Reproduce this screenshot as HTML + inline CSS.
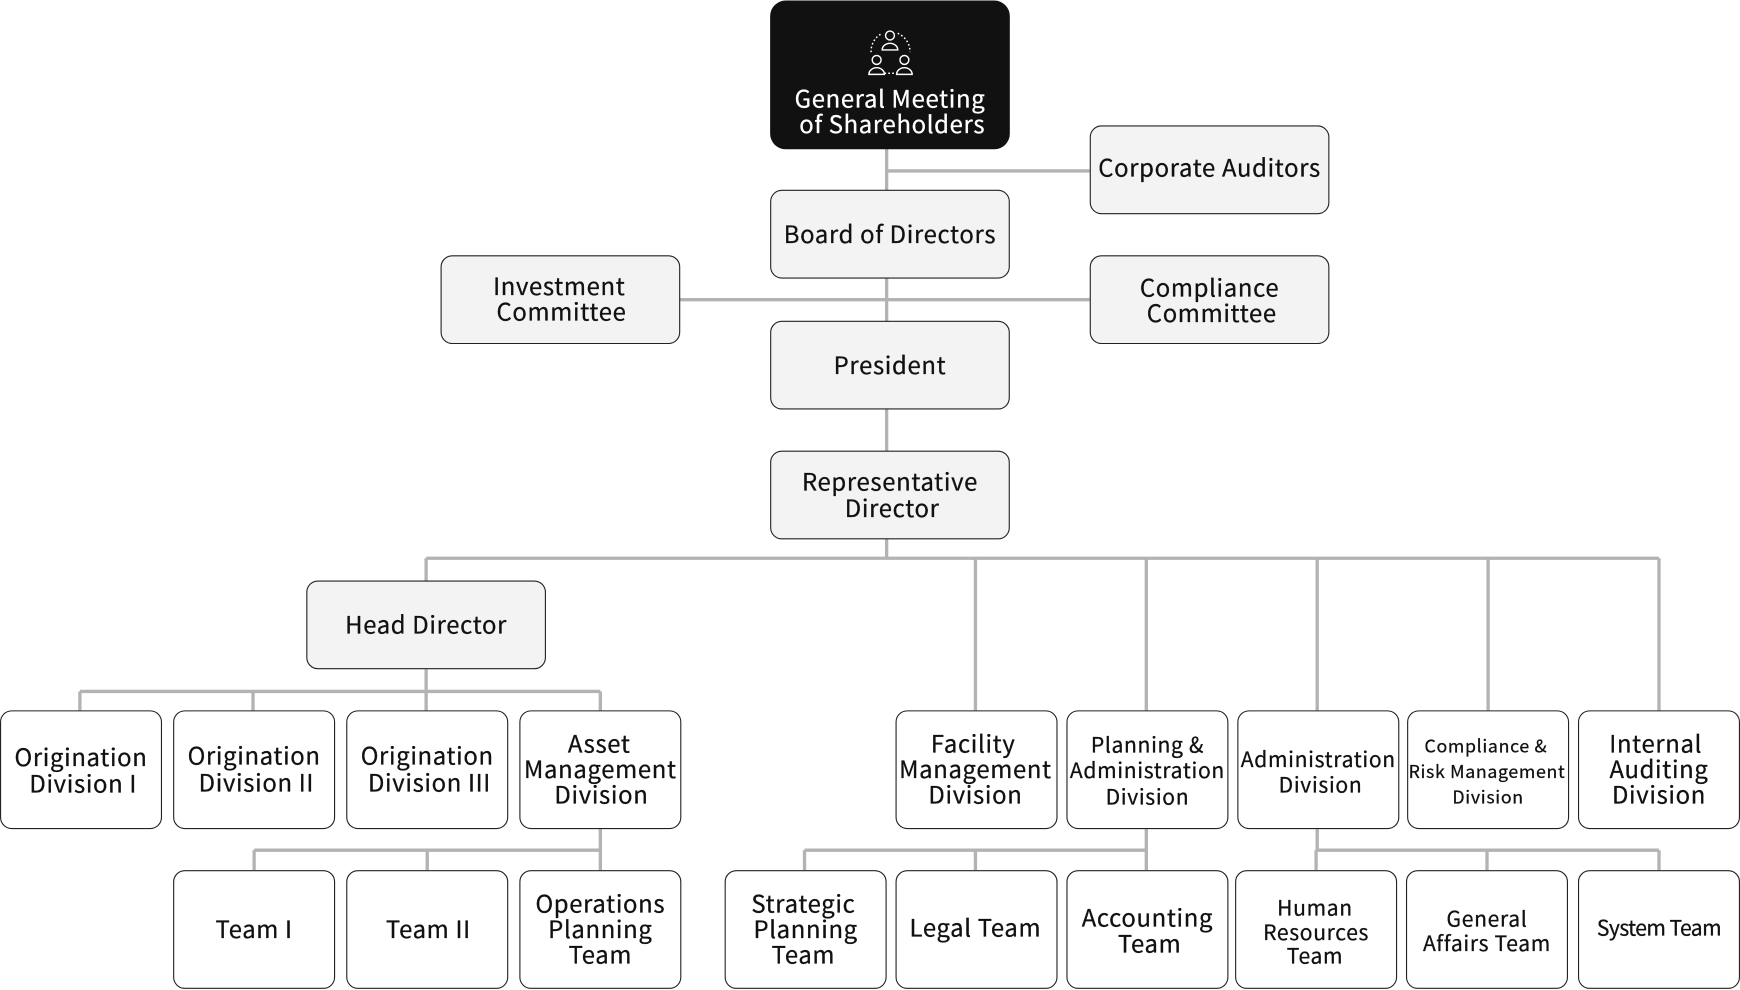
<!DOCTYPE html>
<html><head><meta charset="utf-8"><style>
html,body{margin:0;padding:0;background:#fff;width:1740px;height:990px;overflow:hidden}
svg{display:block}
text{font-family:"Noto Sans CJK JP","Liberation Sans",sans-serif;fill:#111;text-anchor:middle;font-size:21.5px;letter-spacing:0.6px;stroke:#111;stroke-width:0.25px}
.b{fill:#f3f3f3;stroke:#222;stroke-width:1}
.w{fill:#fff;stroke:#222;stroke-width:1}
.l{stroke:#b3b3b3;stroke-width:3;fill:none}
</style></head><body>
<svg width="1740" height="990" viewBox="0 0 1568 892" preserveAspectRatio="none">
<path class="l" d="M799 134V503M799 154H982M612 270H982M384 503H1495M384 503V523M879 503V640M1033 503V640M1187 503V640M1341 503V640M1495 503V640"/>
<path class="l" d="M384 603V623M72 623H541M72 623V640M228 623V640M384 623V640M541 623V640"/>
<path class="l" d="M541 747V766M229 766H541M229 766V784M385 766V784M541 766V784"/>
<path class="l" d="M1033 747V766M725 766H1033M725 766V784M879 766V784M1033 766V784"/>
<path class="l" d="M1187 747V766M1186 766H1495M1186 766V784M1340 766V784M1495 766V784"/>
<rect x="694" y="0.5" width="216" height="134" rx="14" fill="#111"/>
<g stroke="#fff" stroke-width="1.3" fill="none">
<circle cx="802" cy="32" r="4"/><path d="M795 45a7 6 0 0 1 14 0z"/>
<circle cx="790" cy="54" r="4"/><path d="M783 67a7 6 0 0 1 14 0z"/>
<circle cx="815" cy="54" r="4"/><path d="M808 67a7 6 0 0 1 14 0z"/>
<path d="M785 47a18 18 0 0 1 10 -17M809 30a18 18 0 0 1 11 17M797 66h11" stroke-dasharray="1.5 2"/>
</g>
<text x="802" y="97" style="fill:#fff;stroke:#fff">General Meeting</text>
<text x="804" y="120" style="fill:#fff;stroke:#fff">of Shareholders</text>
<rect class="b" x="982.5" y="113.5" width="215" height="79" rx="10"/><text x="1090" y="159">Corporate Auditors</text>
<rect class="b" x="694.5" y="171.5" width="215" height="79" rx="10"/><text x="802" y="219">Board of Directors</text>
<rect class="b" x="397.5" y="230.5" width="215" height="79" rx="10"/><text x="504" y="266">Investment</text><text x="506" y="289">Committee</text>
<rect class="b" x="982.5" y="230.5" width="215" height="79" rx="10"/><text x="1090" y="267">Compliance</text><text x="1092" y="290">Committee</text>
<rect class="b" x="694.5" y="289.5" width="215" height="79" rx="10"/><text x="802" y="337">President</text>
<rect class="b" x="694.5" y="406.5" width="215" height="79" rx="10"/><text x="802" y="442">Representative</text><text x="804" y="466">Director</text>
<rect class="b" x="276.5" y="523.5" width="215" height="79" rx="10"/><text x="384" y="571">Head Director</text>
<rect class="w" x="0.5" y="640.5" width="145" height="106" rx="10"/><text x="73" y="690">Origination</text><text x="75" y="714">Division I</text>
<rect class="w" x="156.5" y="640.5" width="145" height="106" rx="10"/><text x="229" y="689">Origination</text><text x="231" y="713">Division II</text>
<rect class="w" x="312.5" y="640.5" width="145" height="106" rx="10"/><text x="385" y="689">Origination</text><text x="387" y="713">Division III</text>
<rect class="w" x="468.5" y="640.5" width="145" height="106" rx="10"/><text x="540" y="678">Asset</text><text x="541" y="701">Management</text><text x="542" y="724">Division</text>
<rect class="w" x="807.5" y="640.5" width="145" height="106" rx="10"/><text x="877" y="678">Facility</text><text x="879" y="701">Management</text><text x="879" y="724">Division</text>
<rect class="w" x="961.5" y="640.5" width="145" height="106" rx="10"/><g style="letter-spacing:-1.1px"><text x="1034" y="678" style="font-size:19px">Planning &amp;</text><text x="1034" y="701" style="font-size:19px">Administration</text><text x="1034" y="725" style="font-size:19px">Division</text></g>
<rect class="w" x="1115.5" y="640.5" width="145" height="106" rx="10"/><g style="letter-spacing:-1px"><text x="1188" y="691" style="font-size:19px">Administration</text><text x="1190" y="714" style="font-size:19px">Division</text></g>
<rect class="w" x="1268.5" y="640.5" width="145" height="106" rx="10"/><g style="letter-spacing:-1.6px"><text x="1339" y="678" style="font-size:16px">Compliance &amp;</text><text x="1340" y="701" style="font-size:16px">Risk Management</text><text x="1341" y="724" style="font-size:16px">Division</text></g>
<rect class="w" x="1422.5" y="640.5" width="145" height="106" rx="10"/><text x="1492" y="678">Internal</text><text x="1495" y="701">Auditing</text><text x="1495" y="724">Division</text>
<rect class="w" x="156.5" y="784.5" width="145" height="106" rx="10"/><text x="229" y="845">Team I</text>
<rect class="w" x="312.5" y="784.5" width="145" height="106" rx="10"/><text x="386" y="845">Team II</text>
<rect class="w" x="468.5" y="784.5" width="145" height="106" rx="10"/><text x="541" y="822">Operations</text><text x="541" y="845">Planning</text><text x="541" y="868">Team</text>
<rect class="w" x="653.5" y="784.5" width="145" height="106" rx="10"/><text x="724" y="822">Strategic</text><text x="726" y="845">Planning</text><text x="724" y="868">Team</text>
<rect class="w" x="807.5" y="784.5" width="145" height="106" rx="10"/><text x="879" y="844">Legal Team</text>
<rect class="w" x="961.5" y="784.5" width="145" height="106" rx="10"/><text x="1034" y="835">Accounting</text><text x="1036" y="858">Team</text>
<rect class="w" x="1113.5" y="784.5" width="145" height="106" rx="10"/><g style="letter-spacing:-0.5px"><text x="1185" y="825" style="font-size:19px">Human</text><text x="1186" y="847" style="font-size:19px">Resources</text><text x="1185" y="868" style="font-size:19px">Team</text></g>
<rect class="w" x="1267.5" y="784.5" width="145" height="106" rx="10"/><g style="letter-spacing:-0.5px"><text x="1340" y="835" style="font-size:19px">General</text><text x="1340" y="857" style="font-size:19px">Affairs Team</text></g>
<rect class="w" x="1422.5" y="784.5" width="145" height="106" rx="10"/><text x="1495" y="843" style="font-size:19px;letter-spacing:-0.5px">System Team</text>
</svg>
</body></html>
